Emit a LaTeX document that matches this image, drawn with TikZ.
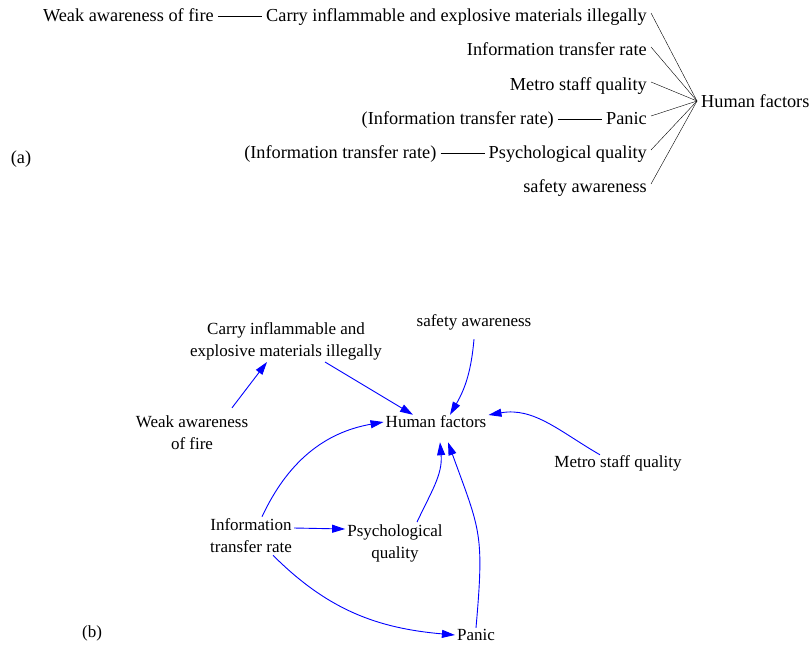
\documentclass[tikz,border=0pt]{standalone}
\usepackage{fontspec}
\setmainfont{Liberation Serif}
\usetikzlibrary{arrows.meta, positioning}

\tikzset{
  lbl/.style={inner sep=2pt, text height=1em, text depth=0pt, font=\fontsize{18.3}{22}\selectfont},
  var/.style={inner sep=2pt, align=center, font=\fontsize{17}{22}\selectfont},
  varone/.style={var, text height=1em, text depth=0pt},
  link/.style={draw=blue, line width=0.9pt, -{Triangle[length=13pt,width=8pt]}},
}

\begin{document}
\begin{tikzpicture}[x=1pt, y=1pt, node distance=48pt]
\useasboundingbox (0,0) rectangle (811,-648);

\node [lbl, anchor=east] (carry1) at (649,-16) {Carry inflammable and explosive materials illegally};
\node [lbl, left=of carry1] (weak1) {Weak awareness of fire};
\node [lbl, anchor=east] (info1) at (649,-50) {Information transfer rate};
\node [lbl, anchor=east] (metro1) at (649,-85) {Metro staff quality};
\node [lbl, anchor=east] (panic1) at (649,-119) {Panic};
\node [lbl, left=of panic1] (infopanic1) {(Information transfer rate)};
\node [lbl, anchor=east] (psych1) at (649,-153) {Psychological quality};
\node [lbl, left=of psych1] (infopsych1) {(Information transfer rate)};
\node [lbl, anchor=east] (safety1) at (649,-187) {safety awareness};
\node [lbl, anchor=west] (human1) at (699,-102) {Human factors};
\node [lbl] (taga) at (21,-158) {(a)};
\coordinate (hub) at (697,-101);

\draw [shorten <=2pt, shorten >=2pt] (weak1) -- (carry1);
\draw [shorten <=2pt, shorten >=2pt] (infopanic1) -- (panic1);
\draw [shorten <=2pt, shorten >=2pt] (infopsych1) -- (psych1);
\foreach \n in {carry1, info1, metro1, panic1, psych1, safety1}
  \draw ([xshift=2pt, yshift=3pt]\n.east) -- (hub);

\node [var] (carry2) at (286,-341) {Carry inflammable and\\explosive materials illegally};
\node [varone] (safety2) at (474,-321) {safety awareness};
\node [var] (weak2) at (192,-433) {Weak awareness\\of fire};
\node [varone] (human2) at (436,-422) {Human factors};
\node [varone] (metro2) at (618,-462) {Metro staff quality};
\node [var] (info2) at (251,-536) {Information\\transfer rate};
\node [var] (psych2) at (395,-543) {Psychological\\quality};
\node [varone] (panic2) at (476,-635) {Panic};
\node [varone] (tagb) at (92,-632) {(b)};

\draw [link] ([xshift=40pt, yshift=6pt]weak2.north) -- ([xshift=-19pt]carry2.south);
\draw [link] ([xshift=39pt]carry2.south) -- ([xshift=-23pt]human2.north);
\draw [link] ([yshift=-11pt]safety2.south) to[out=-95, in=60] ([xshift=14pt]human2.north);
\draw [link] ([xshift=-18pt]metro2.north) to[out=150, in=10] ([yshift=7pt]human2.east);
\draw [link] ([xshift=11pt]info2.north) to[out=65, in=190] (human2.west);
\draw [link] ([yshift=8pt]info2.east) -- ([yshift=14pt]psych2.west);
\draw [link] ([xshift=22pt]psych2.north) to[out=65, in=-85] ([xshift=4pt, yshift=-13pt]human2.south);
\draw [link] ([xshift=22pt]info2.south) to[out=-45, in=175] (panic2.west);
\draw [link] (panic2.north) to[out=85, in=-70, looseness=1.3] ([xshift=12pt, yshift=-13pt]human2.south);
\end{tikzpicture}
\end{document}
